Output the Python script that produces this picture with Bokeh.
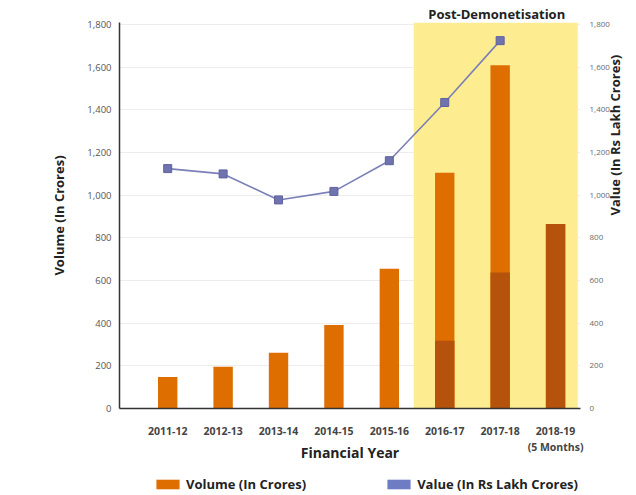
import math
from bokeh.plotting import figure
from bokeh.layouts import column
from bokeh.models import (ColumnDataSource, Range1d, LinearAxis, FixedTicker, Title,
                          BoxAnnotation, Legend, LegendItem, NumeralTickFormatter)
from bokeh.embed import file_html
from bokeh.resources import INLINE

# ---- data ----
years = ["2011-12", "2012-13", "2013-14", "2014-15", "2015-16",
         "2016-17", "2017-18", "2018-19\n(5 Months)"]
volume = [148, 196, 262, 392, 655, 1105, 1610, 865]          # Volume (In Crores)
volume_dark = [0, 0, 0, 0, 0, 318, 638, 865]                  # darker lower part
value = [1125, 1100, 978, 1018, 1162, 1435, 1725]             # Value (In Rs Lakh Crores)
y_ticks = [0, 200, 400, 600, 800, 1000, 1200, 1400, 1600, 1800]
post_demo_start = "2016-17"

FONT = "Open Sans"
ORANGE = "#DE6E00"
DARK = "#B5520C"
YELLOW = "#FDEC90"
LINE = "#7A7FB8"
BLUE = "#6E7CC4"

W = 636
BL, BR = 119, 56
FRAME_W = W - BL - BR
x = list(range(len(years)))
X0, X1 = -0.87, len(years) - 0.55
xr = Range1d(X0, X1)
src = ColumnDataSource(dict(x=x, vol=volume, dark=volume_dark))

i0 = years.index(post_demo_start)
band_l, band_r = i0 - 0.56, len(years) - 1 + 0.40

# ---- main chart ----
MAIN_H = 470
p = figure(width=W, height=MAIN_H, title=None, x_range=xr, y_range=Range1d(0, 1810),
           output_backend="svg", toolbar_location=None,
           min_border_left=BL, min_border_right=BR, min_border_top=22, min_border_bottom=62)
p.outline_line_color = None

p.add_layout(BoxAnnotation(left=band_l, right=band_r, fill_color=YELLOW,
                           fill_alpha=1.0, line_color=None, level="underlay"))

p.vbar(x="x", top="vol", bottom=0, width=0.35, source=src,
       fill_color=ORANGE, line_color=None)
p.vbar(x="x", top="dark", bottom=0, width=0.35, source=src,
       fill_color=DARK, line_color=None)

p.line(x[:len(value)], value, line_color=LINE, line_width=1.6)
p.scatter(x[:len(value)], value, marker="square", size=8,
          fill_color="#7074AE", line_color="#5E629C")

p.xgrid.visible = False
p.ygrid.ticker = FixedTicker(ticks=y_ticks)
p.ygrid.grid_line_color = "#ededed"

# band title in the top panel (left edge of the text placed from the band centre)
title_w = 135
band_c_px = ((band_l + band_r) / 2 - X0) / (X1 - X0) * FRAME_W
p.add_layout(Title(text="Post-Demonetisation", align="left", offset=band_c_px - title_w / 2,
                   text_font=FONT, text_font_size="13px", text_font_style="bold",
                   text_color="#222222", standoff=0), "above")

xa = p.xaxis[0]
xa.ticker = FixedTicker(ticks=x)
xa.major_label_overrides = {i: years[i] for i in x}
xa.major_tick_line_color = None
xa.minor_tick_line_color = None
xa.major_tick_out = 0
xa.minor_tick_out = 0
xa.axis_line_color = "#333333"
xa.axis_line_width = 1.5
xa.major_label_standoff = 15
xa.major_label_text_font = FONT
xa.major_label_text_font_size = "10.5px"
xa.major_label_text_font_style = "bold"
xa.major_label_text_color = "#444444"
xa.axis_label = "Financial Year"
xa.axis_label_text_font = FONT
xa.axis_label_text_font_size = "14px"
xa.axis_label_text_font_style = "bold"
xa.axis_label_text_color = "#222222"
xa.axis_label_standoff = -14

ya = p.yaxis[0]
ya.ticker = FixedTicker(ticks=y_ticks)
ya.formatter = NumeralTickFormatter(format="0,0")
ya.major_tick_line_color = None
ya.minor_tick_line_color = None
ya.major_tick_out = 0
ya.minor_tick_out = 0
ya.axis_line_color = "#333333"
ya.axis_line_width = 1.5
ya.major_label_standoff = 8
ya.major_label_text_font = FONT
ya.major_label_text_font_size = "9.5px"
ya.major_label_text_color = "#555555"
ya.axis_label = "Volume (In Crores)"
ya.axis_label_text_font = FONT
ya.axis_label_text_font_size = "13px"
ya.axis_label_text_font_style = "bold"
ya.axis_label_text_color = "#222222"
ya.axis_label_standoff = 16

ra = LinearAxis(ticker=FixedTicker(ticks=y_ticks), formatter=NumeralTickFormatter(format="0,0"))
ra.major_tick_line_color = None
ra.minor_tick_line_color = None
ra.major_tick_out = 0
ra.minor_tick_out = 0
ra.axis_line_color = None
ra.major_label_standoff = 9
ra.major_label_text_font = FONT
ra.major_label_text_font_size = "8px"
ra.major_label_text_color = "#6a6a6a"
ra.axis_label = "Value (In Rs Lakh Crores)"
ra.axis_label_text_font = FONT
ra.axis_label_text_font_size = "13px"
ra.axis_label_text_font_style = "bold"
ra.axis_label_text_color = "#222222"
ra.axis_label_standoff = 2
if "axis_label_orientation" in ra.properties():
    ra.axis_label_orientation = math.pi / 2
p.add_layout(ra, "right")

# ---- legend strip ----
LEG_H = 495 - MAIN_H
leg = figure(width=W, height=LEG_H, x_range=Range1d(0, 1), y_range=Range1d(0, 1),
             x_axis_type=None, y_axis_type=None, output_backend="svg",
             toolbar_location=None, title=None,
             min_border_left=BL, min_border_right=BR, min_border_top=0, min_border_bottom=0)
leg.outline_line_color = None
leg.grid.visible = False
r_vol = leg.rect(x=[-9], y=[-9], width=1, height=1, fill_color=ORANGE, line_color=None)
r_val = leg.rect(x=[-9], y=[-9], width=1, height=1, fill_color=BLUE, line_color=None)
legend = Legend(items=[LegendItem(label="Volume (In Crores)", renderers=[r_vol]),
                       LegendItem(label="Value (In Rs Lakh Crores)", renderers=[r_val])],
                orientation="horizontal", location=(34, 2),
                glyph_width=29, glyph_height=12, label_standoff=4, spacing=78,
                padding=0, margin=0, border_line_color=None, background_fill_alpha=0,
                label_text_font=FONT, label_text_font_size="13px",
                label_text_font_style="bold", label_text_color="#222222", label_height=13)
leg.add_layout(legend)

layout = column(p, leg, spacing=0)
open("out.html", "w").write(file_html(layout, INLINE))
